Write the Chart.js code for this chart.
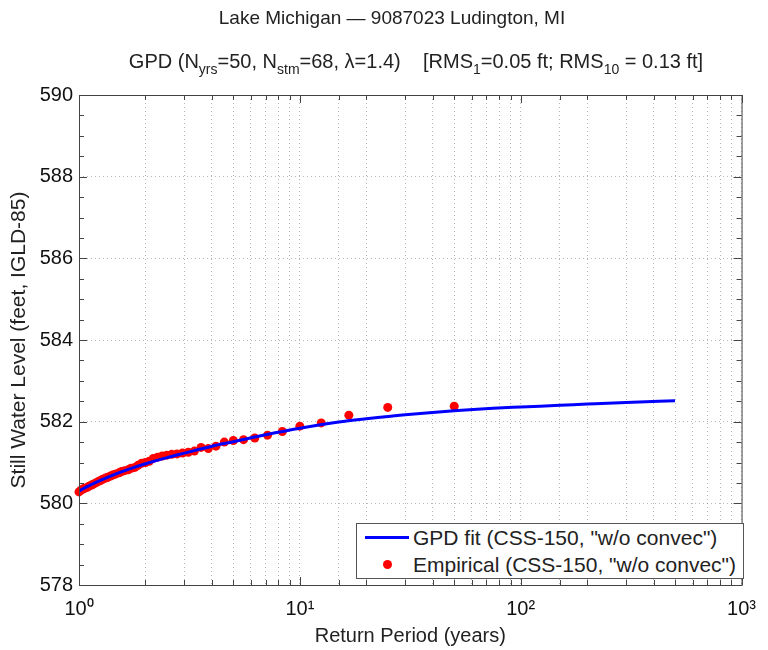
<!DOCTYPE html>
<html>
<head>
<meta charset="utf-8">
<title>Lake Michigan — 9087023 Ludington, MI</title>
<script src="https://cdn.jsdelivr.net/npm/chart.js@4.4.1/dist/chart.umd.min.js"></script>
<style>
    body { margin: 0; background: #fff; font-family: "Liberation Sans", Arial, sans-serif; color: #222; }
    #wrap { position: relative; width: 768px; height: 650px; }
    #grafico { position: absolute; left: 0; top: 0; }
    .titulo { position: absolute; width: 800px; text-align: center; font-size: 19px; line-height: 22px; white-space: nowrap; }
    .titulo sub { font-size: 14px; vertical-align: -6px; line-height: 0; }
    #leyenda {
        position: absolute; left: 356px; top: 523px; width: 386px; height: 54px;
        border: 1px solid #555; background: #fff; font-size: 21px;
    }
    #leyenda .fila { position: relative; height: 27px; line-height: 27px; padding-left: 56px; white-space: nowrap; }
    #leyenda .linea { position: absolute; left: 8px; top: 12px; width: 44px; height: 3px; background: #0000ff; }
    #leyenda .punto { position: absolute; left: 26px; top: 9px; width: 9px; height: 9px; border-radius: 50%; background: #ff0000; }
</style>
</head>
<body>
<div id="wrap">
    <canvas id="grafico" width="768" height="650"></canvas>
    <div class="titulo" style="left:-8px; top:7px;">Lake Michigan — 9087023 Ludington, MI</div>
    <div class="titulo" style="left:16px; top:50px; font-size:20px;">GPD (N<sub>yrs</sub>=50, N<sub>stm</sub>=68, λ=1.4) &nbsp;&nbsp;&nbsp;[RMS<sub>1</sub>=0.05 ft; RMS<sub>10</sub> = 0.13 ft]</div>
    <div id="leyenda">
        <div class="fila"><span class="linea"></span>GPD fit (CSS-150, "w/o convec")</div>
        <div class="fila"><span class="punto"></span>Empirical (CSS-150, "w/o convec")</div>
    </div>
</div>

<script>
/* --- datos --------------------------------------------------------------- */
// curva GPD ajustada (periodo de retorno en años, nivel en pies)
const fitPeriodo = [1, 1.1, 1.25, 1.5, 1.75, 2, 2.5, 3, 4, 5, 7, 10, 15, 20, 30, 50, 75, 100, 150, 200, 300, 500];
const fitNivel = [580.30, 580.42, 580.56, 580.74, 580.87, 580.97, 581.12, 581.23, 581.40, 581.51, 581.68, 581.84,
    581.99, 582.07, 582.17, 582.27, 582.33, 582.36, 582.40, 582.43, 582.47, 582.51];

// puntos empíricos
const empPeriodo = [50, 25, 16.67, 12.5, 10, 8.33, 7.14, 6.25, 5.56, 5.0,
    4.55, 4.17, 3.85, 3.57, 3.33, 3.125, 2.94, 2.78, 2.63, 2.5,
    2.38, 2.27, 2.17, 2.08, 2.0, 1.92, 1.85, 1.79, 1.72, 1.67,
    1.61, 1.56, 1.52, 1.47, 1.43, 1.39, 1.35, 1.32, 1.28, 1.25,
    1.22, 1.19, 1.16, 1.14, 1.11, 1.09, 1.06, 1.04, 1.02, 1.0];
const empNivel = [582.38, 582.35, 582.16, 581.97, 581.89, 581.76, 581.67, 581.60, 581.56, 581.54,
    581.50, 581.40, 581.34, 581.37, 581.28, 581.25, 581.23, 581.21, 581.20, 581.18,
    581.16, 581.13, 581.10, 581.03, 581.00, 580.98, 580.93, 580.88, 580.86, 580.82,
    580.80, 580.78, 580.75, 580.72, 580.70, 580.67, 580.64, 580.62, 580.59, 580.56,
    580.53, 580.50, 580.47, 580.45, 580.42, 580.39, 580.37, 580.35, 580.32, 580.28];

const yTicks = [578, 580, 582, 584, 586, 588, 590];
const xMajor = [1, 10, 100, 1000];
const superindice = ['⁰', '¹', '²', '³'];

/* --- helpers ------------------------------------------------------------- */
function pares(xs, ys) {
    return xs.map((x, i) => ({ x, y: ys[i] }));
}

const fuente = { family: '"Liberation Sans", Arial, sans-serif', size: 20 };

// marco completo del eje con marcas hacia adentro (estilo MATLAB)
const marco = {
    id: 'marco',
    afterDraw(chart) {
        const { ctx, chartArea: a, scales } = chart;
        ctx.save();
        ctx.strokeStyle = '#444';
        ctx.lineWidth = 1;
        ctx.strokeRect(a.left + 0.5, a.top + 0.5, a.right - a.left, a.bottom - a.top);
        ctx.beginPath();
        scales.x.ticks.forEach(t => {
            const px = Math.round(scales.x.getPixelForValue(t.value)) + 0.5;
            const len = xMajor.includes(t.value) ? 8 : 5;
            ctx.moveTo(px, a.bottom); ctx.lineTo(px, a.bottom - len);
            ctx.moveTo(px, a.top); ctx.lineTo(px, a.top + len);
        });
        for (let v = yTicks[0]; v <= yTicks[yTicks.length - 1]; v += 0.5) {
            const py = Math.round(scales.y.getPixelForValue(v)) + 0.5;
            const len = yTicks.includes(v) ? 8 : 5;
            ctx.moveTo(a.left, py); ctx.lineTo(a.left + len, py);
            ctx.moveTo(a.right, py); ctx.lineTo(a.right - len, py);
        }
        ctx.stroke();
        ctx.restore();
    }
};

/* --- gráfico ------------------------------------------------------------- */
new Chart(document.getElementById('grafico'), {
    type: 'scatter',
    data: {
        datasets: [
            {
                label: 'GPD fit (CSS-150, "w/o convec")',
                data: pares(fitPeriodo, fitNivel),
                showLine: true,
                borderColor: '#0000ff',
                borderWidth: 3,
                pointRadius: 0,
                cubicInterpolationMode: 'monotone',
                order: 0
            },
            {
                label: 'Empirical (CSS-150, "w/o convec")',
                data: pares(empPeriodo, empNivel),
                backgroundColor: '#ff0000',
                borderColor: '#ff0000',
                borderWidth: 0,
                pointRadius: 4.5,
                clip: false,
                order: 1
            }
        ]
    },
    options: {
        responsive: false,
        animation: false,
        layout: { padding: { left: 0, right: 24, top: 95, bottom: 0 } },
        plugins: {
            legend: { display: false },
            title: { display: false },
            tooltip: { enabled: false }
        },
        scales: {
            x: {
                type: 'logarithmic',
                min: 1,
                max: 1000,
                afterFit: s => { s.height = 65; },
                grid: { color: 'rgba(0,0,0,0.28)', drawTicks: false },
                border: { display: false, dash: [1, 3] },
                ticks: {
                    autoSkip: false,
                    maxRotation: 0,
                    padding: 12,
                    color: '#111',
                    font: fuente,
                    callback: v => {
                        const i = xMajor.indexOf(v);
                        return i >= 0 ? '10' + superindice[i] : '';
                    }
                },
                title: { display: true, text: 'Return Period (years)', color: '#222', font: fuente, padding: { top: 0, bottom: 2 } }
            },
            y: {
                min: 578,
                max: 590,
                afterFit: s => { s.width = 79; },
                afterBuildTicks: s => { s.ticks = yTicks.map(v => ({ value: v })); },
                grid: { color: 'rgba(0,0,0,0.28)', drawTicks: false },
                border: { display: false, dash: [1, 3] },
                ticks: { padding: 6, color: '#111', font: fuente },
                title: { display: true, text: 'Still Water Level (feet, IGLD-85)', color: '#222', font: { ...fuente, size: 21 }, padding: { top: 7, bottom: 0 } }
            }
        }
    },
    plugins: [marco]
});
</script>
</body>
</html>
